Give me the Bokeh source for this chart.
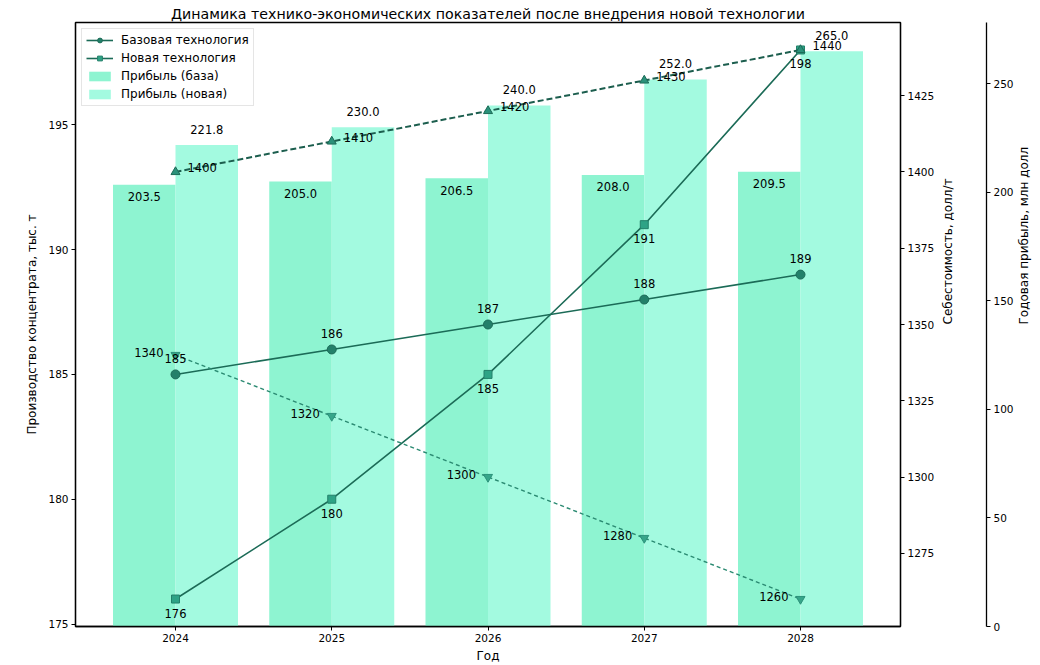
import math
from bokeh.plotting import figure
from bokeh.models import (ColumnDataSource, LinearAxis, Range1d, Legend, LegendItem,
                          FixedTicker)
from bokeh.transform import dodge
from bokeh.embed import file_html
from bokeh.resources import INLINE
from bokeh.core.properties import value

years = [2024, 2025, 2026, 2027, 2028]
prod_base = [185, 186, 187, 188, 189]
prod_new = [176, 180, 185, 191, 198]
cost_base = [1340, 1320, 1300, 1280, 1260]
cost_new = [1400, 1410, 1420, 1430, 1440]
profit_base = [203.5, 205.0, 206.5, 208.0, 209.5]
profit_new = [221.8, 230.0, 240.0, 252.0, 265.0]

title_text = "Динамика технико-экономических показателей после внедрения новой технологии"
x_label = "Год"
y_label = "Производство концентрата, тыс. т"
cost_label = "Себестоимость, долл/т"
profit_label = "Годовая прибыль, млн долл"

FONT = "DejaVu Sans"
W, H = 1040, 665
BL, BR, BT, BB = 75, 137, 22, 38

X0, X1 = 2023.36, 2028.64
Y0, Y1 = 174.9, 199.1
C0, C1 = 1251, 1449
P0, P1 = 0, 278.25

src = ColumnDataSource(dict(
    year=years,
    pb=prod_base, pn=prod_new, cb=cost_base, cn=cost_new,
    fb=profit_base, fn=profit_new,
    pb_l=[str(v) for v in prod_base], pn_l=[str(v) for v in prod_new],
    cb_l=[str(v) for v in cost_base], cn_l=[str(v) for v in cost_new],
    fb_l=[f"{v:.1f}" for v in profit_base], fn_l=[f"{v:.1f}" for v in profit_new],
))

p = figure(width=W, height=H, x_range=Range1d(X0, X1), y_range=Range1d(Y0, Y1),
           output_backend="svg", toolbar_location=None,
           min_border_left=BL, min_border_right=BR, min_border_top=BT, min_border_bottom=BB,
           title=title_text)
p.extra_y_ranges = {"cost": Range1d(C0, C1), "profit": Range1d(P0, P1)}

p.title.align = "center"
p.title.text_font = FONT
p.title.text_font_size = "14.2px"
p.title.text_font_style = "normal"
p.title.text_color = "black"
p.title.standoff = 2
p.title.offset = 0

p.xgrid.visible = False
p.ygrid.visible = False
p.outline_line_color = "black"
p.outline_line_width = 1.3
p.background_fill_color = "white"
p.border_fill_color = "white"

def style_axis(ax, label, std):
    ax.axis_label = label
    ax.axis_label_text_font = FONT
    ax.axis_label_text_font_size = "12px"
    ax.axis_label_text_font_style = "normal"
    ax.axis_label_text_color = "black"
    ax.axis_label_standoff = std
    ax.major_label_text_font = FONT
    ax.major_label_text_font_size = "10.5px"
    ax.major_label_text_color = "black"
    ax.major_label_standoff = 3
    ax.major_tick_out = 4
    ax.major_tick_in = 0
    ax.minor_tick_out = 0
    ax.minor_tick_in = 0
    ax.axis_line_color = "black"
    ax.axis_line_width = 1.3
    ax.major_tick_line_color = "black"

p.xaxis.ticker = FixedTicker(ticks=years)
style_axis(p.xaxis[0], x_label, 4)
p.yaxis.ticker = FixedTicker(ticks=[175, 180, 185, 190, 195])
style_axis(p.yaxis[0], y_label, 6)

def label_axis(rng, text, std):
    """Axis carrying only a bottom-to-top title."""
    ax = LinearAxis(y_range_name=rng, ticker=FixedTicker(ticks=[]))
    ax.axis_line_color = None
    ax.major_tick_line_color = None
    ax.minor_tick_line_color = None
    ax.major_tick_out = 0
    ax.major_tick_in = 0
    ax.minor_tick_out = 0
    ax.major_label_standoff = 0
    ax.axis_label = text
    ax.axis_label_text_font = FONT
    ax.axis_label_text_font_size = "12px"
    ax.axis_label_text_font_style = "normal"
    ax.axis_label_text_color = "black"
    ax.axis_label_standoff = std
    if "axis_label_orientation" in ax.properties():
        ax.axis_label_orientation = math.pi / 2
    return ax

cost_ax = LinearAxis(y_range_name="cost",
                     ticker=FixedTicker(ticks=[1275, 1300, 1325, 1350, 1375, 1400, 1425]))
style_axis(cost_ax, None, 0)
p.add_layout(cost_ax, "right")
p.add_layout(label_axis("cost", cost_label, 10), "right")

# white (invisible) axis used only as a gap before the offset profit axis
spacer = LinearAxis(y_range_name="cost", ticker=FixedTicker(ticks=[1253]))
spacer.axis_line_color = None
spacer.major_tick_line_color = "white"
spacer.minor_tick_line_color = None
spacer.major_tick_out = 18
spacer.major_tick_in = 0
spacer.minor_tick_out = 0
spacer.major_label_overrides = {1253: "."}
spacer.major_label_text_font_size = "2px"
spacer.major_label_text_color = "white"
spacer.major_label_standoff = 0
p.add_layout(spacer, "right")

profit_ax = LinearAxis(y_range_name="profit",
                       ticker=FixedTicker(ticks=[0, 50, 100, 150, 200, 250]))
style_axis(profit_ax, None, 0)
p.add_layout(profit_ax, "right")
p.add_layout(label_axis("profit", profit_label, 7), "right")

# Bars
bar_b = p.vbar(x=dodge("year", -0.2), top="fb", bottom=0, width=0.4, source=src,
               y_range_name="profit", fill_color="#8ef4d1", line_color=None)
bar_n = p.vbar(x=dodge("year", 0.2), top="fn", bottom=0, width=0.4, source=src,
               y_range_name="profit", fill_color="#a3fae0", line_color=None)

# Production lines
l_pb = p.line("year", "pb", source=src, line_color="#1b6b57", line_width=1.6)
m_pb = p.scatter("year", "pb", source=src, marker="circle", size=9,
                 fill_color="#23806a", line_color="#1b6b57")
l_pn = p.line("year", "pn", source=src, line_color="#1c6b57", line_width=1.6)
m_pn = p.scatter("year", "pn", source=src, marker="square", size=8,
                 fill_color="#2ea386", line_color="#23806a")

# Cost lines
l_cb = p.line("year", "cb", source=src, y_range_name="cost", line_color="#2b8a72",
              line_width=1.4, line_dash="4 3")
m_cb = p.scatter("year", "cb", source=src, y_range_name="cost", marker="inverted_triangle",
                 size=9, fill_color="#37a68a", line_color="#2b917a")
l_cn = p.line("year", "cn", source=src, y_range_name="cost", line_color="#1c5e4e",
              line_width=2, line_dash="6 3")
m_cn = p.scatter("year", "cn", source=src, y_range_name="cost", marker="triangle",
                 size=9, fill_color="#2b917a", line_color="#1c6b57")

TXT = dict(text_font=value(FONT), text_font_size="11.5px", text_color="black")

p.text(x=dodge("year", -0.2), y="fb", text="fb_l", source=src, y_range_name="profit",
       text_align="center", text_baseline="middle", y_offset=12, **TXT)
p.text(x=dodge("year", 0.2), y="fn", text="fn_l", source=src, y_range_name="profit",
       text_align="center", text_baseline="middle", y_offset=-16, **TXT)
p.text(x="year", y="pb", text="pb_l", source=src, text_align="center",
       text_baseline="middle", y_offset=-16, **TXT)
p.text(x="year", y="pn", text="pn_l", source=src, text_align="center",
       text_baseline="middle", y_offset=14, **TXT)
p.text(x="year", y="cb", text="cb_l", source=src, y_range_name="cost", text_align="right",
       text_baseline="middle", x_offset=-12, y_offset=-3, **TXT)
p.text(x="year", y="cn", text="cn_l", source=src, y_range_name="cost", text_align="left",
       text_baseline="middle", x_offset=12, y_offset=-4, **TXT)

legend = Legend(items=[
    LegendItem(label="Базовая технология", renderers=[l_pb, m_pb]),
    LegendItem(label="Новая технология", renderers=[l_pn, m_pn]),
    LegendItem(label="Прибыль (база)", renderers=[bar_b]),
    LegendItem(label="Прибыль (новая)", renderers=[bar_n]),
], location="top_left")
legend.label_text_font = FONT
legend.label_text_font_size = "12px"
legend.label_text_color = "black"
legend.glyph_width = 27
legend.glyph_height = 12
legend.label_height = 14
legend.label_standoff = 8
legend.spacing = 4
legend.padding = 4
legend.margin = 6
legend.border_line_color = "#cccccc"
legend.border_line_width = 1
legend.background_fill_alpha = 0.85
p.add_layout(legend)

open("out.html", "w").write(file_html(p, INLINE))
